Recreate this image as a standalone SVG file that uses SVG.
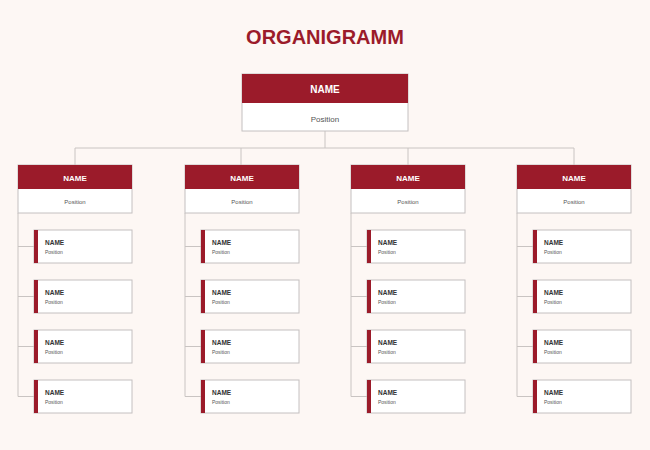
<svg xmlns="http://www.w3.org/2000/svg" width="650" height="450" viewBox="0 0 650 450">
<defs>
<style>
.bg{fill:#fdf7f4}
.hdr{fill:#9b1b2a}
.box{fill:#ffffff;stroke:#c4c0c0;stroke-width:1}
.ln{fill:none;stroke:#c9c4c2;stroke-width:1}
.t{font-family:"Liberation Sans",Arial,sans-serif}
.title{font-size:20px;font-weight:bold;fill:#9b1b2a}
.hn{font-size:10px;font-weight:bold;fill:#ffffff}
.hp{font-size:8px;fill:#555}
.cn{font-size:6.5px;font-weight:bold;fill:#333}
.cp{font-size:5px;fill:#555}
.sn{font-size:8px;font-weight:bold;fill:#ffffff}
.sp{font-size:6px;fill:#555}
</style>
<g id="child">
<rect class="box" x="0" y="0" width="98" height="33"/>
<rect class="hdr" x="0" y="0" width="4" height="33"/>
<text class="t cn" x="11" y="15">NAME</text>
<text class="t cp" x="11" y="23.5">Position</text>
</g>
<g id="sub">
<rect class="box" x="0" y="0" width="114" height="48"/>
<rect class="hdr" x="0" y="0" width="114" height="24"/>
<text class="t sn" x="57" y="15.5" text-anchor="middle">NAME</text>
<text class="t sp" x="57" y="38.5" text-anchor="middle">Position</text>
</g>
</defs>
<rect class="bg" x="0" y="0" width="650" height="450"/>
<text class="t title" x="325" y="44" text-anchor="middle">ORGANIGRAMM</text>
<g id="connectors">
<path class="ln" d="M325 131V148M75 148H574M75 148V165M241 148V165M408 148V165M574 148V165"/>
<path class="ln" d="M18 213V396.5M18 246.5H34M18 296.5H34M18 346.5H34M18 396.5H34"/>
<path class="ln" d="M185 213V396.5M185 246.5H201M185 296.5H201M185 346.5H201M185 396.5H201"/>
<path class="ln" d="M351 213V396.5M351 246.5H367M351 296.5H367M351 346.5H367M351 396.5H367"/>
<path class="ln" d="M517 213V396.5M517 246.5H533M517 296.5H533M517 346.5H533M517 396.5H533"/>
</g>
<g id="top">
<rect class="box" x="242" y="74" width="166" height="57"/>
<rect class="hdr" x="242" y="74" width="166" height="29"/>
<text class="t hn" x="325" y="93" text-anchor="middle">NAME</text>
<text class="t hp" x="325" y="122" text-anchor="middle">Position</text>
</g>
<g id="sub1"><use href="#sub" x="18" y="165"/></g>
<g id="sub2"><use href="#sub" x="185" y="165"/></g>
<g id="sub3"><use href="#sub" x="351" y="165"/></g>
<g id="sub4"><use href="#sub" x="517" y="165"/></g>
<g id="c1a"><use href="#child" x="34" y="230"/></g>
<g id="c1b"><use href="#child" x="34" y="280"/></g>
<g id="c1c"><use href="#child" x="34" y="330"/></g>
<g id="c1d"><use href="#child" x="34" y="380"/></g>
<g id="c2a"><use href="#child" x="201" y="230"/></g>
<g id="c2b"><use href="#child" x="201" y="280"/></g>
<g id="c2c"><use href="#child" x="201" y="330"/></g>
<g id="c2d"><use href="#child" x="201" y="380"/></g>
<g id="c3a"><use href="#child" x="367" y="230"/></g>
<g id="c3b"><use href="#child" x="367" y="280"/></g>
<g id="c3c"><use href="#child" x="367" y="330"/></g>
<g id="c3d"><use href="#child" x="367" y="380"/></g>
<g id="c4a"><use href="#child" x="533" y="230"/></g>
<g id="c4b"><use href="#child" x="533" y="280"/></g>
<g id="c4c"><use href="#child" x="533" y="330"/></g>
<g id="c4d"><use href="#child" x="533" y="380"/></g>
</svg>
